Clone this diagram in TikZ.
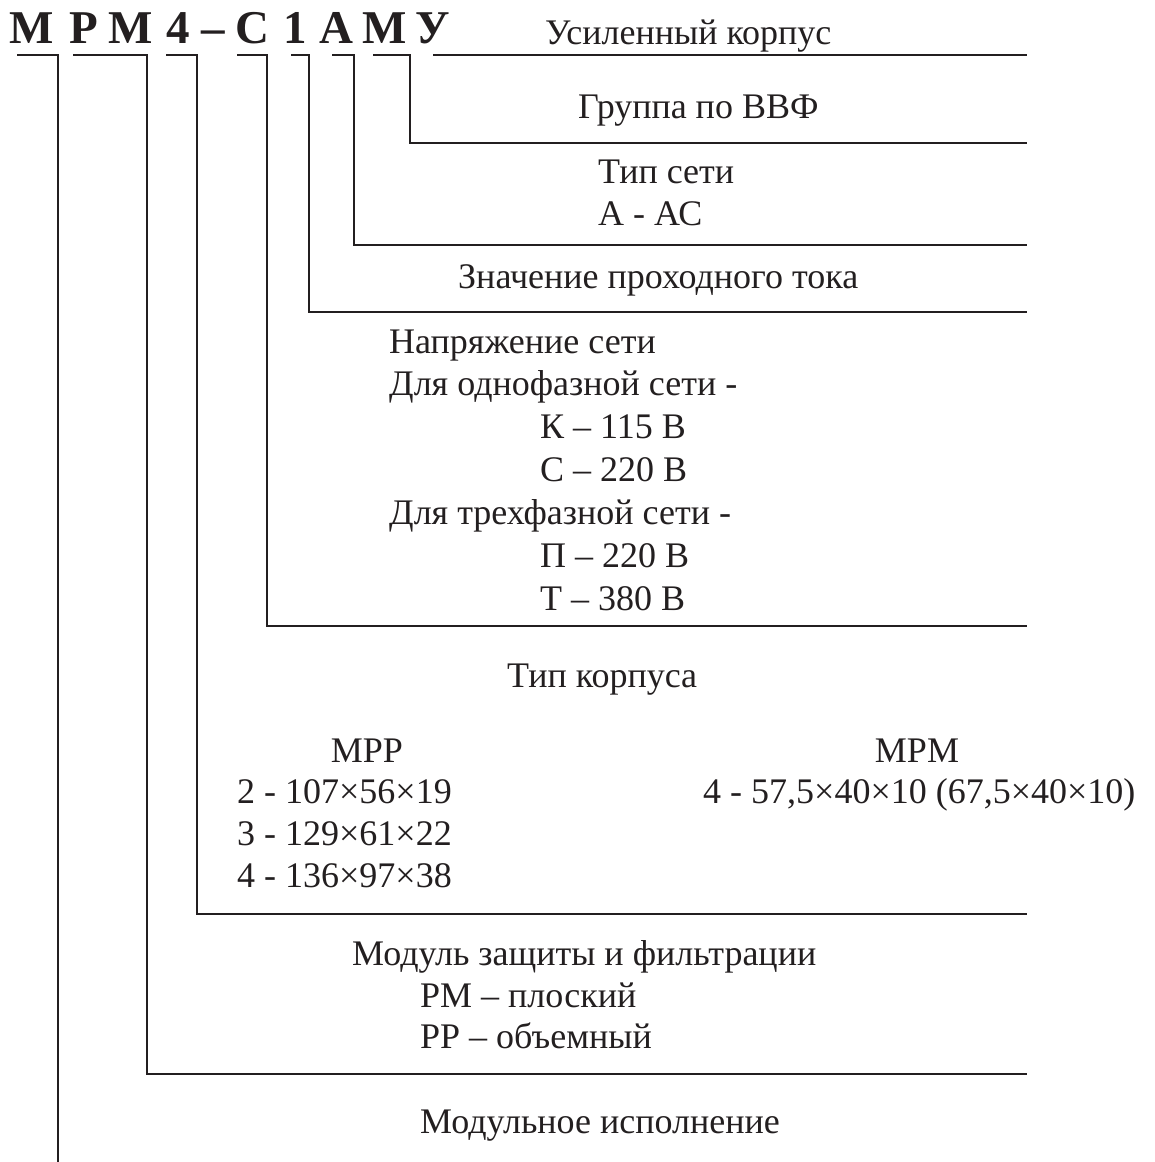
\documentclass[tikz,border=0pt]{standalone}
\usepackage{fontspec}
\setmainfont{Liberation Serif}
\definecolor{ink}{HTML}{231F20}
\begin{document}
\begin{tikzpicture}[x=1pt,y=-1pt,
  lead/.style={draw=ink,line width=1.8pt,line cap=butt,line join=miter},
  lbl/.style={anchor=base west,inner sep=0pt,text=ink,font=\fontsize{36}{42}\selectfont},
  lblc/.style={anchor=base,inner sep=0pt,text=ink,font=\fontsize{36}{42}\selectfont},
  ttl/.style={anchor=base,inner sep=0pt,text=ink,font=\fontsize{47}{50}\selectfont\bfseries}]
\useasboundingbox (0,0) rectangle (1154,1162);
% title letters
\node[ttl] (t1) at (32,43) {М};
\node[ttl] (t2) at (84,43) {Р};
\node[ttl] (t3) at (131,43) {М};
\node[ttl] (t4) at (178,43) {4};
\node[ttl] (t5) at (213,43) {–};
\node[ttl] (t6) at (252,43) {С};
\node[ttl] (t7) at (295,43) {1};
\node[ttl] (t8) at (336,43) {А};
\node[ttl] (t9) at (385,43) {М};
\node[ttl] (t10) at (433,43) {У};
% labels
\node[lbl] (l1) at (545,44) {Усиленный корпус};
\node[lbl] (l2) at (578,118) {Группа по ВВФ};
\node[lbl] (l3a) at (598,183) {Тип сети};
\node[lbl] (l3b) at (598,225) {А - АС};
\node[lbl] (l4) at (458,288) {Значение проходного тока};
\node[lbl] (l5a) at (389,353) {Напряжение сети};
\node[lbl] (l5b) at (389,395) {Для однофазной сети -};
\node[lbl] (l5c) at (540,438) {К – 115 В};
\node[lbl] (l5d) at (540,481) {С – 220 В};
\node[lbl] (l5e) at (389,524) {Для трехфазной сети -};
\node[lbl] (l5f) at (540,567) {П – 220 В};
\node[lbl] (l5g) at (540,610) {Т – 380 В};
\node[lbl] (l6) at (507,687) {Тип корпуса};
\node[lblc] (l6a) at (367,762) {МРР};
\node[lbl] (l6b) at (237,803) {2 - 107×56×19};
\node[lbl] (l6c) at (237,845) {3 - 129×61×22};
\node[lbl] (l6d) at (237,887) {4 - 136×97×38};
\node[lblc] (l6e) at (917,762) {МРМ};
\node[lbl] (l6f) at (703,803) {4 - 57,5×40×10 (67,5×40×10)};
\node[lbl] (l7a) at (352,965) {Модуль защиты и фильтрации};
\node[lbl] (l7b) at (420,1007) {РМ – плоский};
\node[lbl] (l7c) at (420,1048) {РР – объемный};
\node[lbl] (l8) at (420,1133) {Модульное исполнение};
% leader coordinates
\coordinate (a1) at (17,55);   \coordinate (b1) at (58,55);   \coordinate (e1) at (58,1162);
\coordinate (a2) at (73,55);   \coordinate (b2) at (147,55);  \coordinate (c2) at (147,1074); \coordinate (e2) at (1027,1074);
\coordinate (a3) at (166,55);  \coordinate (b3) at (197,55);  \coordinate (c3) at (197,914);  \coordinate (e3) at (1027,914);
\coordinate (a4) at (237,55);  \coordinate (b4) at (267,55);  \coordinate (c4) at (267,626);  \coordinate (e4) at (1027,626);
\coordinate (a5) at (291,55);  \coordinate (b5) at (309,55);  \coordinate (c5) at (309,312);  \coordinate (e5) at (1027,312);
\coordinate (a6) at (332,55);  \coordinate (b6) at (354,55);  \coordinate (c6) at (354,245);  \coordinate (e6) at (1027,245);
\coordinate (a7) at (373,55);  \coordinate (b7) at (410,55);  \coordinate (c7) at (410,143);  \coordinate (e7) at (1027,143);
\coordinate (a8) at (433,55);  \coordinate (e8) at (1027,55);
% leaders
\draw[lead] (a1) -- (b1) -- (e1);
\draw[lead] (a2) -- (b2) -- (c2) -- (e2);
\draw[lead] (a3) -- (b3) -- (c3) -- (e3);
\draw[lead] (a4) -- (b4) -- (c4) -- (e4);
\draw[lead] (a5) -- (b5) -- (c5) -- (e5);
\draw[lead] (a6) -- (b6) -- (c6) -- (e6);
\draw[lead] (a7) -- (b7) -- (c7) -- (e7);
\draw[lead] (a8) -- (e8);
\end{tikzpicture}
\end{document}
